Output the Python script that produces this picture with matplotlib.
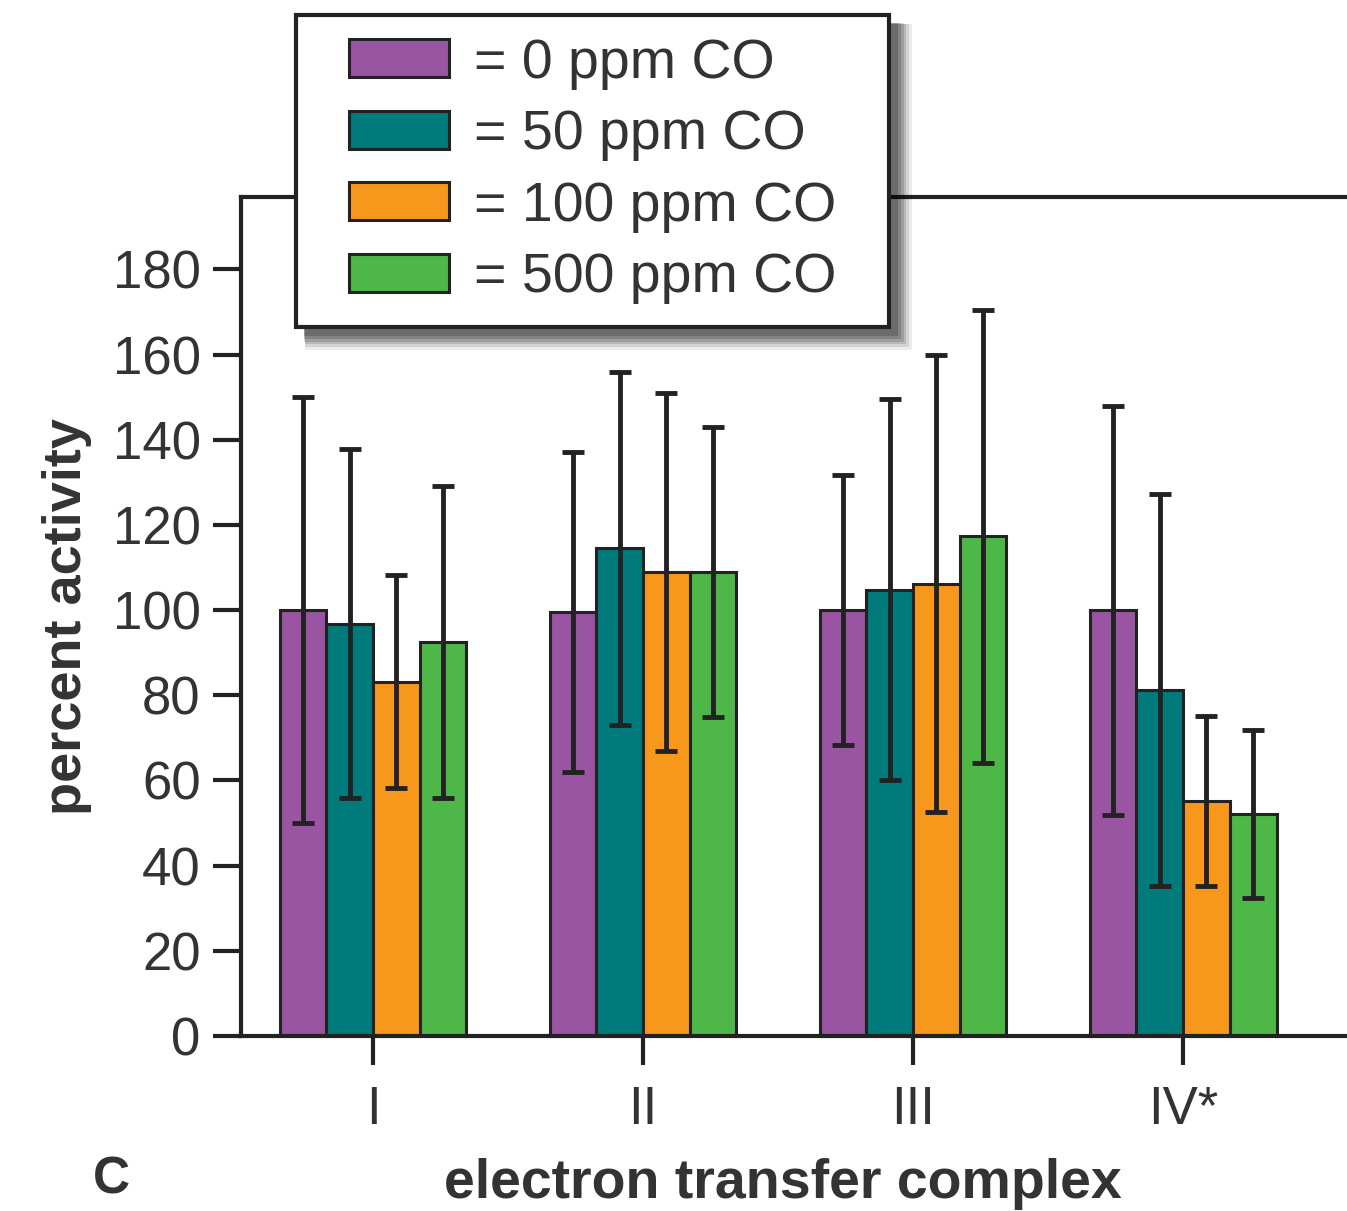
import numpy as np
from matplotlib import pyplot as plt
from matplotlib.patches import Rectangle

plt.rcParams["font.family"] = ["Liberation Sans", "DejaVu Sans"]

complexes = ["I", "II", "III", "IV*"]
doses = ["= 0 ppm CO", "= 50 ppm CO", "= 100 ppm CO", "= 500 ppm CO"]
colors = ["#9955a2", "#007a7a", "#f7981d", "#4db848"]

activity = [
    [100, 99.6, 100, 100],     # 0 ppm
    [96.8, 114.5, 104.8, 81.3],  # 50 ppm
    [83.2, 109, 106.2, 55.2],   # 100 ppm
    [92.6, 109, 117.3, 52.2],   # 500 ppm
]
errors = [
    [50, 37.5, 31.7, 48],
    [41, 41.5, 44.8, 46],
    [25, 42, 53.7, 20],
    [36.6, 34, 53.2, 19.7],
]

ink = "#222222"
txt = "#333333"
fig = plt.figure(figsize=(13.47, 12.11), dpi=100)
ax = fig.add_axes([0.1789, 0.1445, 1 - 0.1789, 0.8373 - 0.1445])

x = np.arange(len(complexes))
w = 0.173
for i in range(len(doses)):
    ax.bar(x + (i - 1.5) * w, activity[i], w, color=colors[i], edgecolor=ink,
           linewidth=2.2, label=doses[i], zorder=2)
    ax.errorbar(x + (i - 1.5) * w, activity[i], yerr=errors[i], fmt="none",
                ecolor=ink, elinewidth=3.5, capsize=8, capthick=3.5, zorder=3)

ax.set_xlim(-0.489, 3.607)
ax.set_ylim(0, 197)
ax.set_yticks(np.arange(0, 181, 20))
ax.set_xticks(x)
ax.set_xticklabels(complexes)
ax.spines["right"].set_visible(False)
for s in ["left", "bottom", "top"]:
    ax.spines[s].set_linewidth(3)
    ax.spines[s].set_color(ink)
ax.tick_params(axis="y", length=20, width=3, color=ink, pad=9, labelsize=38, labelcolor=txt)
ax.tick_params(axis="x", length=21, width=3, color=ink, pad=14, labelsize=38, labelcolor=txt)
ax.set_ylabel("percent activity", fontsize=39, fontweight="bold", color=txt)
ax.yaxis.set_label_coords(-0.135, 0.5)
ax.set_xlabel("electron transfer complex", fontsize=40, fontweight="bold", color=txt)
ax.xaxis.set_label_coords(0.49, -0.145)
fig.text(0.083, 0.026, "C", fontsize=37, fontweight="bold", color=txt, ha="center", va="center")

# legend box with soft shadow, drawn in figure pixels
W, H = 1347, 1211
bx0, by0, bx1, by1 = 296, 15, 889, 327
for k, a in enumerate([0.08, 0.1, 0.12, 0.14, 0.16, 0.18]):
    off = 16 - k * 1.5
    grow = 7 - k * 1.3
    fig.patches.append(Rectangle(((bx0 + off - grow) / W, 1 - (by1 + off + grow) / H),
                                 (bx1 - bx0 + 2 * grow) / W, (by1 - by0 + 2 * grow) / H,
                                 transform=fig.transFigure, facecolor="black", alpha=a,
                                 edgecolor="none", zorder=4))
fig.patches.append(Rectangle((bx0 / W, 1 - by1 / H), (bx1 - bx0) / W, (by1 - by0) / H,
                             transform=fig.transFigure, facecolor="white", edgecolor=ink,
                             linewidth=3, zorder=4.5))
leg = fig.legend(loc="center", bbox_to_anchor=((bx0 + bx1) / 2 / W, 1 - (by0 + by1) / 2 / H),
                 frameon=False, fontsize=40, handlelength=1.8, handleheight=0.67,
                 handletextpad=0.45, labelspacing=0.35, borderpad=0)
leg.set_zorder(5)
for t in leg.get_texts():
    t.set_color(txt)

plt.savefig("out.png", dpi=100)
plt.close()
